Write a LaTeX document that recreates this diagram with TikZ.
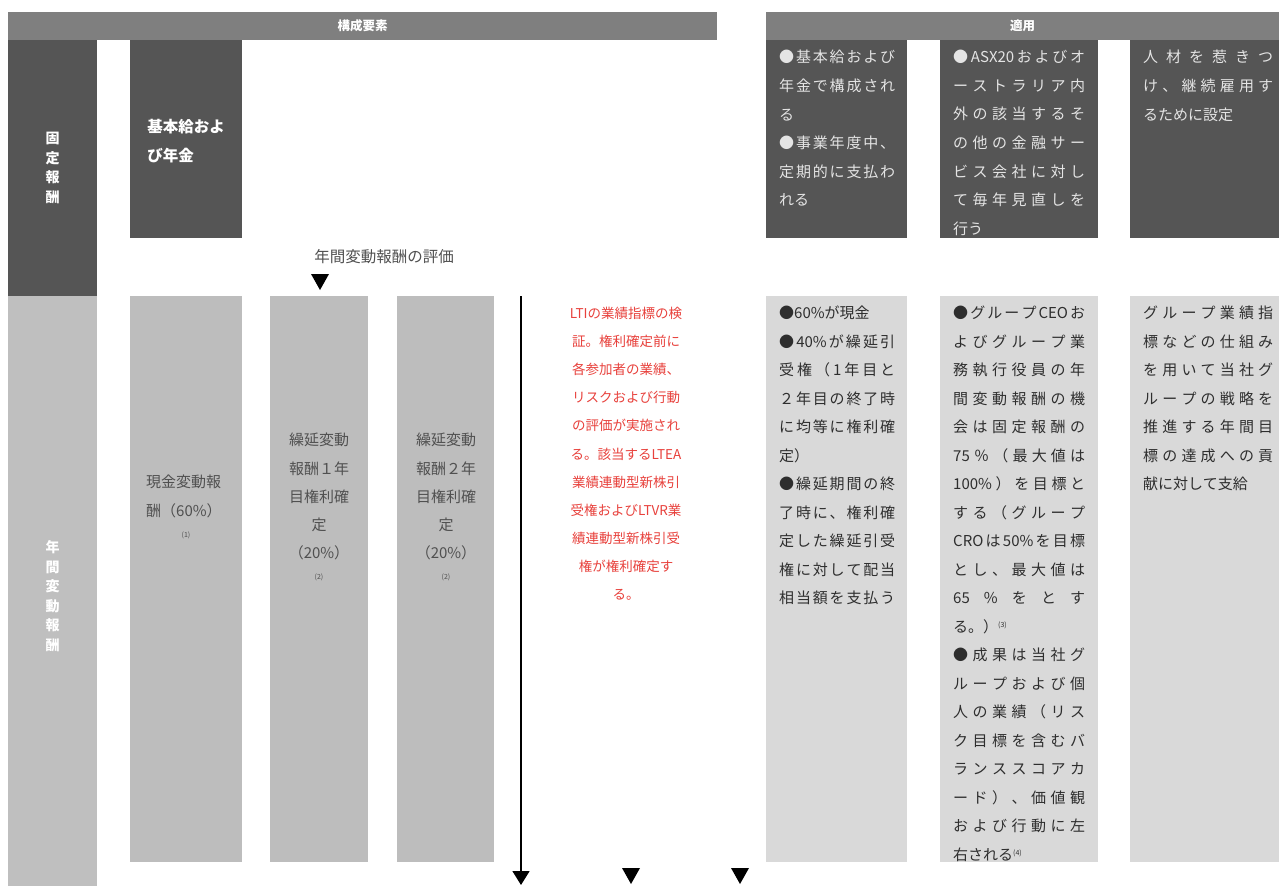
\documentclass[tikz,border=0pt]{standalone}
\usepackage{fontspec}
\setmainfont{Noto Sans CJK JP}
\usetikzlibrary{arrows.meta}
\definecolor{hdr}{HTML}{7F7F7F}
\definecolor{dark}{HTML}{555555}
\definecolor{midg}{HTML}{BFBFBF}
\definecolor{midb}{HTML}{BDBDBD}
\definecolor{lightg}{HTML}{D9D9D9}
\definecolor{redtxt}{HTML}{E8413C}
\definecolor{darktxt}{HTML}{E4E4E4}
\definecolor{lighttxt}{HTML}{2E2E2E}
\definecolor{midtxt}{HTML}{505050}
\def\sprloop#1{\ifx#1\relax\else\hfil#1\expandafter\sprloop\fi}
\def\sprfirst#1{#1\sprloop}
\newcommand\spr[2]{\makebox[#1][s]{\sprfirst#2\relax}}
\newcommand\fnm[1]{\raisebox{5pt}{\fontsize{7}{7}\selectfont(#1)}}
\tikzset{
  x=1pt, y=-1pt,
  box/.style={draw=none, inner sep=0pt, outer sep=0pt, anchor=north west},
  hdrbox/.style={box, fill=hdr, minimum height=28pt, text=white, font=\fontsize{12.5}{14}\selectfont\bfseries},
  darkbox/.style={box, fill=dark},
  midbox/.style={box, fill=midb},
  lightbox/.style={box, fill=lightg},
  darkt/.style={inner sep=0pt, anchor=north west, align=left, text=darktxt, font=\fontsize{15}{28.6}\selectfont},
  lightt/.style={inner sep=0pt, anchor=north west, align=left, text=lighttxt, font=\fontsize{15}{28.5}\selectfont},
  midt/.style={inner sep=0pt, align=center, text=midtxt, font=\fontsize{15}{28.2}\selectfont},
  fnt/.style={inner sep=0pt, text=midtxt, font=\fontsize{7}{8}\selectfont},
  vlab/.style={text=white, font=\fontsize{14}{19.5}\selectfont\bfseries, align=center},
  dtri/.pic={\fill[black] (-9,-8) -- (9,-8) -- (0,8) -- cycle;}
}
\begin{document}
\begin{tikzpicture}
\useasboundingbox (0,0) rectangle (1279,886);
\fill[white] (0,0) rectangle (1279,886);
% headers
\node[hdrbox, minimum width=709pt] (hA) at (8,12) {構成要素};
\node[hdrbox, minimum width=513pt] (hB) at (766,12) {適用};
% left column
\node[darkbox, minimum width=89pt, minimum height=256pt] (fix) at (8,40) {};
\node[vlab] (fixt) at (fix.center) {固\\定\\報\\酬};
\node[box, fill=midg, minimum width=89pt, minimum height=590pt] (var) at (8,296) {};
\node[vlab] (vart) at (52.5,596) {年\\間\\変\\動\\報\\酬};
% base pay
\node[darkbox, minimum width=112pt, minimum height=198pt] (base) at (130,40) {};
\node[text=white, font=\fontsize{15.5}{29}\selectfont\bfseries, align=left] (baset) at (186,141) {基本給およ\\び年金};
% evaluation label
\node[text=midtxt, font=\fontsize{15.5}{16}\selectfont] (eval) at (384,257) {年間変動報酬の評価};
\pic at (320,282) {dtri};
% variable boxes
\node[midbox, minimum width=112pt, minimum height=566pt] (cash) at (130,296) {};
\node[midbox, minimum width=98pt, minimum height=566pt] (d1) at (270,296) {};
\node[midbox, minimum width=97pt, minimum height=566pt] (d2) at (397,296) {};
\node[midt, anchor=north west, align=left] (casht) at (146,475) {現金変動報\\酬（60\%）};
\node[fnt] (cashf) at (186,535) {(1)};
\node[midt, anchor=north] (d1t) at (319,433) {繰延変動\\報酬１年\\目権利確\\定\\（20\%）};
\node[fnt] (d1f) at (319,577) {(2)};
\node[midt, anchor=north] (d2t) at (446,433) {繰延変動\\報酬２年\\目権利確\\定\\（20\%）};
\node[fnt] (d2f) at (446,577) {(2)};
% vertical arrow
\coordinate (vt) at (521,296);
\coordinate (vb) at (521,885);
\draw[line width=1.6pt, -{Triangle[width=17pt,length=14pt]}] (vt) -- (vb);
\pic at (631,876) {dtri};
\pic at (740,876) {dtri};
% red text
\node[inner sep=0pt, anchor=north, align=center, text=redtxt, font=\fontsize{13.5}{28.1}\selectfont] (lti) at (626,307)
 {LTIの業績指標の検\\証。権利確定前に\\各参加者の業績、\\リスクおよび行動\\の評価が実施され\\る。該当するLTEA\\業績連動型新株引\\受権およびLTVR業\\績連動型新株引受\\権が権利確定す\\る。};
% application dark boxes
\node[darkbox, minimum width=141pt, minimum height=198pt] (aA) at (766,40) {};
\node[darkbox, minimum width=158pt, minimum height=198pt] (aB) at (940,40) {};
\node[darkbox, minimum width=149pt, minimum height=198pt] (aC) at (1130,40) {};
\node[darkt] (aAt) at (779,50) {\spr{116pt}{●基本給および}\\\spr{116pt}{年金で構成され}\\る\\\spr{116pt}{●事業年度中、}\\\spr{116pt}{定期的に支払わ}\\れる};
\node[darkt] (aBt) at (953,50) {\spr{132pt}{●{ASX20}およびオ}\\\spr{132pt}{ーストラリア内}\\\spr{132pt}{外の該当するそ}\\\spr{132pt}{の他の金融サー}\\\spr{132pt}{ビス会社に対し}\\\spr{132pt}{て毎年見直しを}\\行う};
\node[darkt] (aCt) at (1143,50) {\spr{130pt}{人材を惹きつ}\\\spr{130pt}{け、継続雇用す}\\るために設定};
% application light boxes
\node[lightbox, minimum width=141pt, minimum height=566pt] (bD) at (766,296) {};
\node[lightbox, minimum width=158pt, minimum height=566pt] (bE) at (940,296) {};
\node[lightbox, minimum width=149pt, minimum height=566pt] (bF) at (1130,296) {};
\node[lightt] (bDt) at (779,306) {●60\%が現金\\\spr{116pt}{●{40\%}が繰延引}\\\spr{116pt}{受権（1年目と}\\\spr{116pt}{２年目の終了時}\\\spr{116pt}{に均等に権利確}\\定）\\\spr{116pt}{●繰延期間の終}\\\spr{116pt}{了時に、権利確}\\\spr{116pt}{定した繰延引受}\\\spr{116pt}{権に対して配当}\\\spr{116pt}{相当額を支払う}};
\node[lightt] (bEt) at (953,306) {\spr{132pt}{●グループ{CEO}お}\\\spr{132pt}{よびグループ業}\\\spr{132pt}{務執行役員の年}\\\spr{132pt}{間変動報酬の機}\\\spr{132pt}{会は固定報酬の}\\\spr{132pt}{{75}％（最大値は}\\\spr{132pt}{{100\%}）を目標と}\\\spr{132pt}{する（グループ}\\\spr{132pt}{{CRO}は{50\%}を目標}\\\spr{132pt}{とし、最大値は}\\\spr{132pt}{{65}\%をとす}\\る。）\fnm{3}\\\spr{132pt}{●成果は当社グ}\\\spr{132pt}{ループおよび個}\\\spr{132pt}{人の業績（リス}\\\spr{132pt}{ク目標を含むバ}\\\spr{132pt}{ランススコアカ}\\\spr{132pt}{ード）、価値観}\\\spr{132pt}{および行動に左}\\右される\fnm{4}};
\node[lightt] (bFt) at (1143,306) {\spr{130pt}{グループ業績指}\\\spr{130pt}{標などの仕組み}\\\spr{130pt}{を用いて当社グ}\\\spr{130pt}{ループの戦略を}\\\spr{130pt}{推進する年間目}\\\spr{130pt}{標の達成への貢}\\献に対して支給};
\end{tikzpicture}
\end{document}
